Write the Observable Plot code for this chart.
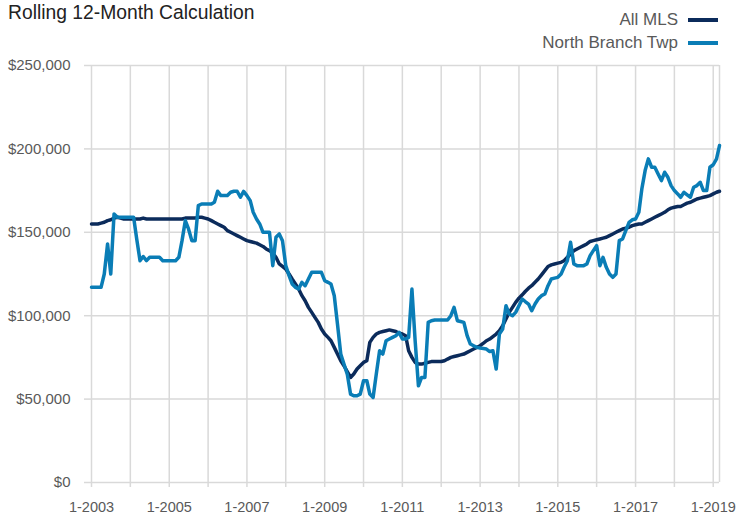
<!DOCTYPE html>
<html>
<head>
<meta charset="utf-8">
<script src="https://cdn.jsdelivr.net/npm/d3@7"></script>
<script src="https://cdn.jsdelivr.net/npm/@observablehq/plot@0.6"></script>
<style>
  html, body { margin: 0; padding: 0; background: #fff; }
  #wrap { position: relative; width: 738px; height: 515px; font-family: "Liberation Sans", Arial, sans-serif; }
  #title { position: absolute; left: 8px; top: 3px; font-size: 19.3px; line-height: 20px; color: #222; white-space: nowrap; }
  #legend { position: absolute; right: 20px; top: 9px; color: #595959; font-size: 17px; }
  .row { display: flex; align-items: center; justify-content: flex-end; height: 22.6px; line-height: 22.6px; }
  .sw { display: inline-block; width: 30px; height: 4px; margin-left: 10px; }
  svg { position: absolute; left: 0; top: 0; }
</style>
</head>
<body>
<div id="wrap">
  <div id="chart"></div>
  <div id="title">Rolling 12-Month Calculation</div>
  <div id="legend"></div>
</div>
<script>
// Series names and colours
const seriesNames = ["All MLS", "North Branch Twp"];
const seriesColors = ["#0b2b5b", "#0a7db6"];

// Monthly values, thousands of dollars, Jan 2003 .. Mar 2019
const allMLS = [
  155, 155, 155, 155.5, 156, 157, 157.5, 158.5, 159, 158.5, 158, 158,
  158, 158, 158, 158, 158.5, 158, 158, 158, 158, 158, 158, 158,
  158, 158, 158, 158, 158, 158.5, 158.5, 158.5, 158.5, 159, 159, 158.5,
  158, 157, 156, 155, 154, 153, 151, 150, 149, 148, 147, 146,
  145, 144.5, 144, 143.5, 142.5, 141.5, 140, 139, 137.5, 135, 131, 129.5,
  128, 125, 122, 119, 116, 112, 109, 105, 102, 99, 96, 92,
  89, 87, 85, 81, 77, 73, 70, 66.5, 63, 65, 68, 70,
  72, 73, 84, 87, 89, 90, 90.5, 91, 91.5, 91, 90.5, 89.5,
  89, 88, 79, 75, 72, 71, 71, 71.5, 72, 72.5, 72.5, 72.5,
  72.5, 73, 74, 75, 75.5, 76, 76.5, 77, 78, 79, 80, 81,
  82, 83.5, 85, 86, 87.5, 89, 91, 94, 98, 102, 105, 108,
  110.5, 112.5, 114.5, 116.5, 118, 120, 122, 124.5, 127, 129.5, 130.5, 131,
  131.5, 132, 133, 135, 137, 139, 140, 141, 142, 143, 144.5, 145,
  145.5, 146, 146.5, 147, 148, 149, 150, 151, 152, 152.5, 153, 154,
  154.5, 155, 155, 156, 157, 158, 159, 160, 161, 162, 163.5, 164.5,
  165, 165.5, 165.5, 166.5, 167.5, 168, 169, 170, 170.5, 171, 171.5, 172,
  173, 174, 174.6
];
const northBranch = [
  117, 117, 117, 117, 125, 143, 125, 161, 159, 159, 159, 159,
  159, 159, 146, 133, 135.5, 133, 135, 135, 135, 135, 133, 133,
  133, 133, 133, 135, 145, 157, 152, 145, 145, 166, 167, 167,
  167, 167, 168, 174.6, 172, 172, 172, 174, 174.6, 174.6, 171, 174.5,
  172, 169, 162, 158, 155, 150, 150, 150, 130, 147, 149, 145,
  130, 124, 119, 117, 116, 120, 118, 122, 126, 126, 126, 126,
  121, 120, 119, 112, 95, 77, 71, 65, 53, 52, 52, 53,
  61, 61, 53, 51, 65, 79, 77, 85, 86, 87, 88, 90,
  86, 86, 87, 116, 85, 58, 63, 63, 96, 97, 97.4, 97.4,
  97.4, 97.4, 97.4, 100, 105, 97, 96.5, 96, 88, 83, 82, 81,
  80.6, 80.3, 80, 78.5, 79, 68, 89, 92, 106, 101, 100, 102,
  106, 110, 108.5, 107, 103, 107, 110, 112, 113, 118, 122, 122.5,
  123, 125, 129, 133, 144, 131, 130, 130, 130, 131, 136, 139,
  142, 130, 135, 129, 125, 123, 125, 145, 146, 151, 156, 157.5,
  158, 162, 176, 187, 194, 189, 189, 185, 181, 186, 183, 178,
  175, 173, 171, 174, 172.5, 171, 177, 178, 180, 175, 175, 189,
  190.5, 194, 202
];

// Axis ticks
const yTicks = [0, 50000, 100000, 150000, 200000, 250000];
const firstYear = 2003, lastYear = 2019, lastMonth = 3; // data runs to March 2019

const months = d3.utcMonth.range(new Date(Date.UTC(firstYear, 0, 1)), new Date(Date.UTC(lastYear, lastMonth, 1)));
const yearTicks = d3.utcYear.range(new Date(Date.UTC(firstYear, 0, 1)), new Date(Date.UTC(lastYear, 1, 1)));
const endDate = months[months.length - 1];

const toRows = (vals) => vals.map((v, i) => ({date: months[i], value: v * 1000}));
const grid = "#d9d9d9";
const textColor = "#595959";

const chart = Plot.plot({
  width: 738,
  height: 515,
  marginLeft: 91,
  marginRight: 19,
  marginTop: 65,
  marginBottom: 33,
  style: {fontFamily: '"Liberation Sans", Arial, sans-serif', background: "transparent", overflow: "visible"},
  x: {type: "utc", domain: [months[0], endDate]},
  y: {domain: [0, 250000]},
  marks: [
    Plot.gridY(yTicks, {stroke: grid, strokeOpacity: 1, strokeWidth: 1.5}),
    Plot.gridX(yearTicks, {stroke: grid, strokeOpacity: 1, strokeWidth: 1.5}),
    Plot.ruleX([endDate], {stroke: grid, strokeWidth: 1.5}),
    Plot.axisY(yTicks, {tickFormat: d3.format("$,"), tickSize: 7, tickPadding: 14, stroke: grid, strokeWidth: 1.5, fill: textColor, fontSize: 15, label: null}),
    Plot.axisX(yearTicks, {tickFormat: d => (d.getUTCFullYear() % 2 === 1 ? `1-${d.getUTCFullYear()}` : ""), tickSize: 5, tickPadding: 14, stroke: grid, strokeWidth: 1.5, fill: textColor, fontSize: 14.5, label: null}),
    Plot.lineY(toRows(allMLS), {x: "date", y: "value", stroke: seriesColors[0], strokeWidth: 3.5}),
    Plot.lineY(toRows(northBranch), {x: "date", y: "value", stroke: seriesColors[1], strokeWidth: 3.5})
  ]
});
document.getElementById("chart").appendChild(chart);

const legend = document.getElementById("legend");
seriesNames.forEach((name, i) => {
  const row = document.createElement("div");
  row.className = "row";
  const t = document.createElement("span");
  t.textContent = name;
  const s = document.createElement("span");
  s.className = "sw";
  s.style.background = seriesColors[i];
  row.appendChild(t);
  row.appendChild(s);
  legend.appendChild(row);
});
</script>
</body>
</html>
